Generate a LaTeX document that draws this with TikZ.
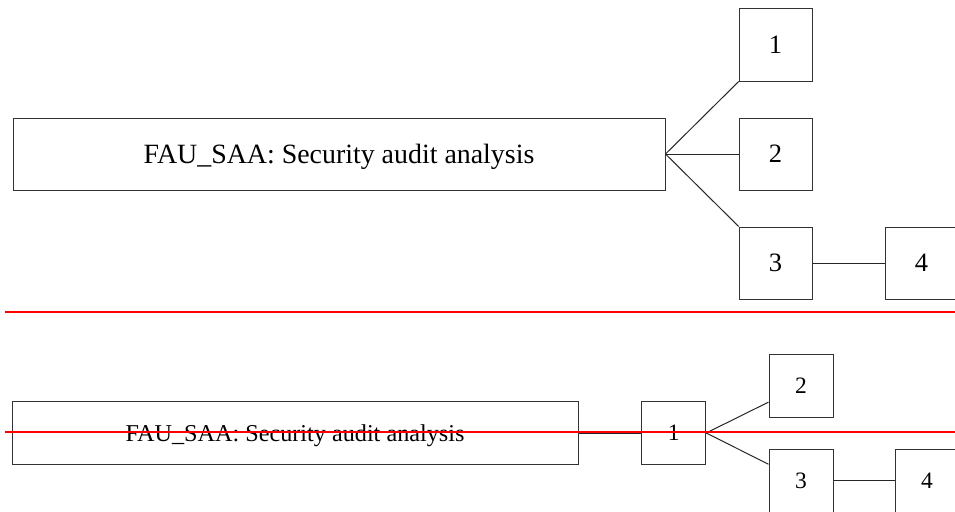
\documentclass[tikz,border=0pt]{standalone}
\usepackage{fontspec}
\setmainfont{Liberation Serif}
\usetikzlibrary{positioning}

\begin{document}
\begin{tikzpicture}[x=1pt,y=-1pt]
\useasboundingbox (0,0) rectangle (955,511);
\clip (0,0) rectangle (955,511);

\begin{scope}[
    every node/.style={rectangle,draw=black!80,line width=1pt,inner sep=0pt,fill=white,text depth=0pt}]
    % % upper tree
    \node (1) at (339, 154) [minimum width=652pt,minimum height=72pt,font=\fontsize{27.9}{32}\selectfont] {FAU\_SAA: Security audit analysis};

    \node (2) at (775.5, 45) [minimum width=73pt,minimum height=72pt,font=\fontsize{26.5}{32}\selectfont] {1};
    \node (3) at (775.5, 154) [minimum width=73pt,minimum height=72pt,font=\fontsize{26.5}{32}\selectfont] {2};
    \node (4) at (775.5, 263) [minimum width=73pt,minimum height=72pt,font=\fontsize{26.5}{32}\selectfont] {3};
    \node (5) at (921.5, 263) [minimum width=73pt,minimum height=72pt,font=\fontsize{26.5}{32}\selectfont] {4};

    % % lower tree
    \node (6) at (295, 433) [minimum width=566pt,minimum height=63pt,font=\fontsize{24.2}{28}\selectfont] {FAU\_SAA: Security audit analysis};

    \node (7) at (673.7, 433) [minimum width=64pt,minimum height=63pt,font=\fontsize{23.5}{28}\selectfont] {1};
    \node (8) at (801, 386) [minimum width=64pt,minimum height=63pt,font=\fontsize{23.5}{28}\selectfont] {2};
    \node (9) at (801, 480.5) [minimum width=64pt,minimum height=63pt,font=\fontsize{23.5}{28}\selectfont] {3};
    \node (10) at (927, 480.5) [minimum width=64pt,minimum height=63pt,font=\fontsize{23.5}{28}\selectfont] {4};
\end{scope}

\begin{scope}[every edge/.style={draw=black!85,line width=1pt}]
    \path (1.east) edge (2);
    \path (1.east) edge (3);
    \path (1.east) edge (4);
    \path (4) edge (5);

    \path (6) edge (7);
    \path (7.east) edge (8);
    \path (7.east) edge (9);
    \path (9) edge (10);
\end{scope}

% % red guide lines
\coordinate (a) at (5, 312);
\coordinate (b) at (960, 312);
\coordinate (c) at (5, 432);
\coordinate (d) at (960, 432);
\draw [red,line width=1.8pt] (a) -- (b);
\draw [red,line width=1.8pt] (c) -- (d);
\end{tikzpicture}
\end{document}
